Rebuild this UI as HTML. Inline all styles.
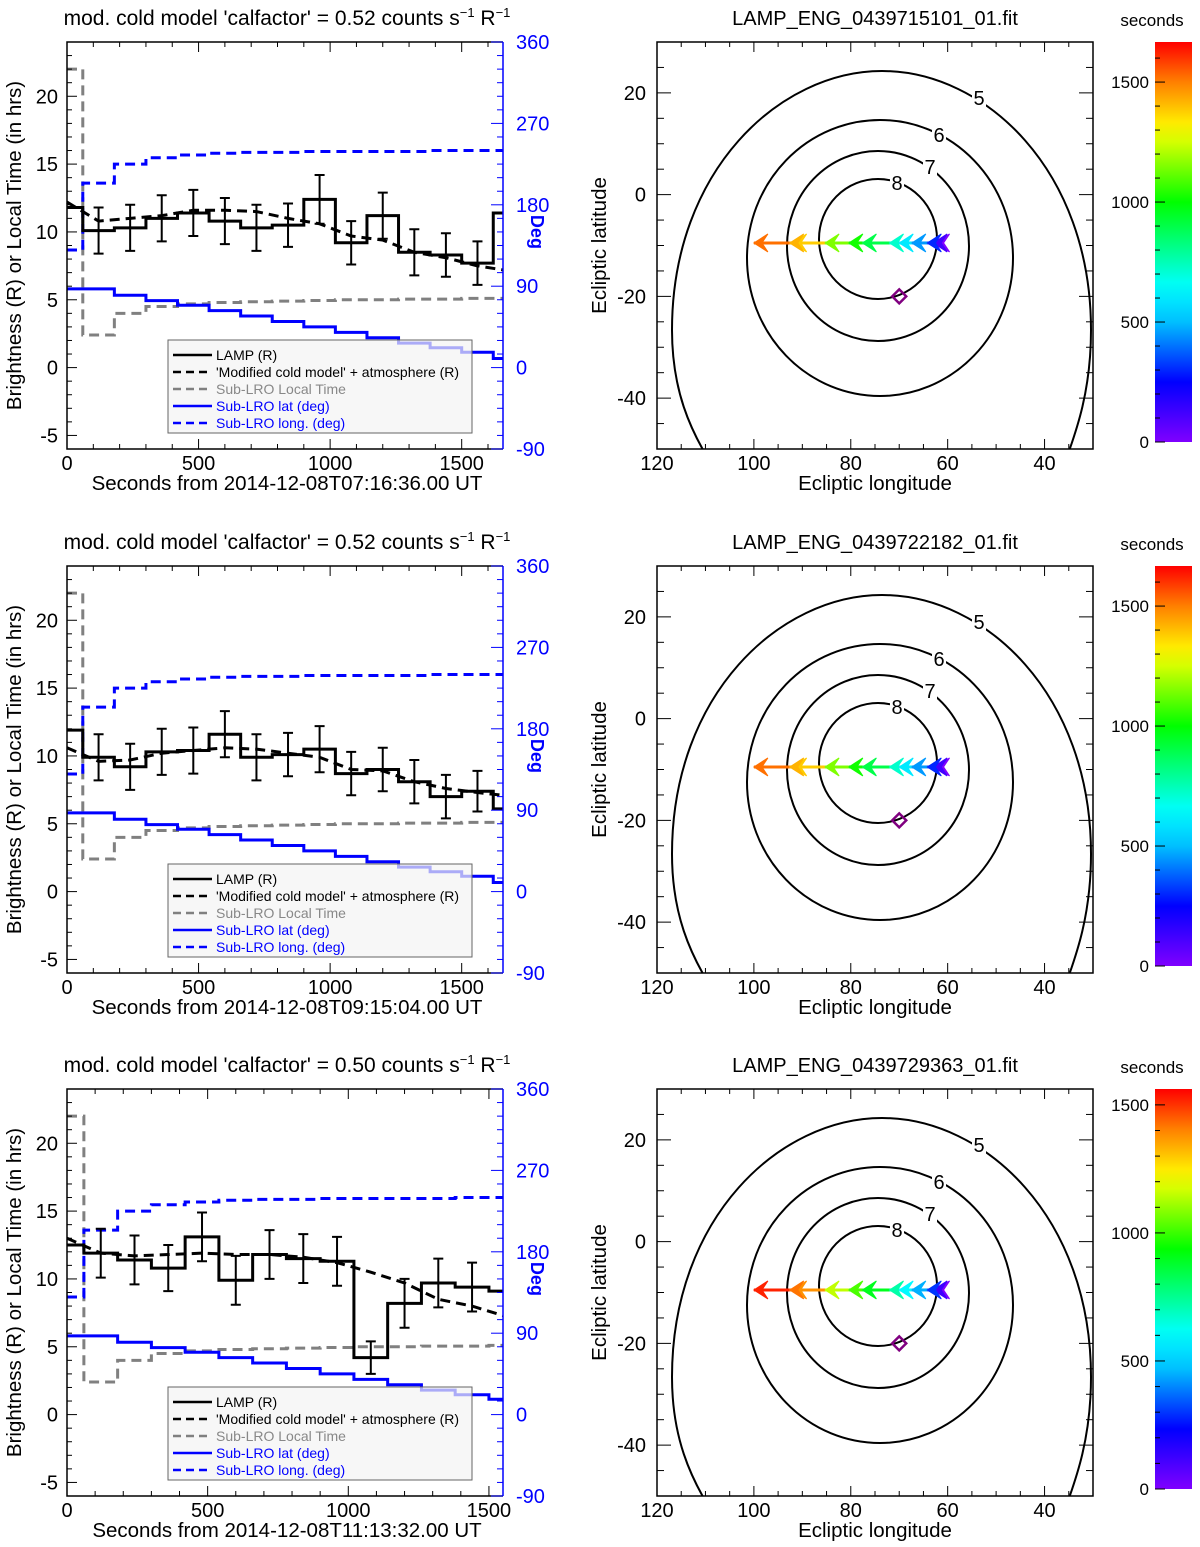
<!DOCTYPE html>
<html><head><meta charset="utf-8"><style>
body{margin:0;background:#fff;overflow:hidden}
svg{display:block;font-family:"Liberation Sans",sans-serif}
</style></head><body>
<svg id="fig" width="1200" height="1547" viewBox="0 0 1200 1547" xmlns="http://www.w3.org/2000/svg"></svg>
<script>
// ---- data: time-series panels (bins every 120 s starting at 60 s) ----
const lamp1=[11.8,10.1,10.3,11.0,11.4,10.8,10.3,10.5,12.4,9.2,11.2,8.5,8.3,7.7,11.4];
const lampErr1=[1.7,1.7,1.7,1.7,1.7,1.7,1.7,1.6,1.8,1.6,1.7,1.7,1.6,1.6,1.6];
const model1=[12.2,10.8,11.0,11.2,11.6,11.6,11.5,11.0,10.6,9.7,9.4,8.5,8.1,7.5,7.2];
const lamp2=[11.9,9.9,9.2,10.3,10.4,11.6,9.9,10.1,10.5,8.7,9.0,8.1,7.0,7.4,6.1];
const lampErr2=[1.7,1.7,1.7,1.7,1.7,1.7,1.7,1.6,1.7,1.6,1.6,1.6,1.6,1.5,1.5];
const model2=[10.6,9.6,9.7,10.2,10.4,10.6,10.5,10.2,9.9,9.0,8.9,8.1,7.6,7.3,7.1];
const lamp3=[12.5,11.9,11.4,10.8,13.1,9.9,11.8,11.5,11.3,4.2,8.2,9.7,9.4,9.1];
const lampErr3=[1.8,1.8,1.8,1.7,1.8,1.8,1.8,1.8,1.8,1.2,1.8,1.8,1.8,1.8];
const model3=[13.0,11.9,11.7,11.8,11.9,11.8,11.8,11.6,11.2,10.5,9.7,8.5,8.0,7.3];
const localTime=[22.0,2.4,4.0,4.5,4.7,4.8,4.85,4.9,4.95,5.0,5.0,5.05,5.05,5.1,5.1];
const latDeg=[87,87,80,74,69,63,57,51,45,39,33,27,22,17,10];
const lonDeg=[130,204,225,232,235,237,238,238,239,239,239,239,240,240,240];
const xTicks=[0,500,1000,1500];
const yTicks=[-5,0,5,10,15,20];
const degTicks=[-90,0,90,180,270,360];
// ---- data: sky maps ----
const arrowLon=[62.5,63,64.2,67.4,70,72,77.6,80.4,85.3,92,92.6,100];
const arrowT=[0,120,300,450,600,720,900,1020,1150,1380,1420,1520];
const lonTicks=[120,100,80,60,40];
const latTicks=[-40,-20,0,20];
const cbTicks=[0,500,1000,1500];
const contourLevels=[5,6,7,8];

const S=document.getElementById('fig');
const NS='http://www.w3.org/2000/svg';
function el(tag,attrs,parent,text){const e=document.createElementNS(NS,tag);for(const k in attrs)e.setAttribute(k,attrs[k]);if(text!==undefined)e.textContent=text;(parent||S).appendChild(e);return e;}

function leftPanel(oy,xmax,lamp,err,model,title,sub,tag){
  const g=el('g',{},S);
  
  
  const L=67,R=503,T=42+oy,B=449+oy;
  const X=t=>L+(R-L)*t/xmax;
  const Y=v=>B-(B-T)*(v+6)/30;
  const D=d=>Y((d+90)/15-6);
  const t1=el('text',{x:287,y:25+oy,'font-size':21,'text-anchor':'middle'},g);
  
  t1.innerHTML="mod. cold model 'calfactor' = "+sub+" counts s<tspan dy='-8' font-size='13'>−1</tspan><tspan dy='8'> R</tspan><tspan dy='-8' font-size='13'>−1</tspan>";
  const edges=i=>[i==0?0:60+(i-1)*120, Math.min(xmax,60+i*120)];
  const n=lamp.length;
  let p='';localTime.forEach((v,i)=>{const[a,b]=edges(i);if(a>=xmax)return;p+=(p?'L':'M')+X(a)+','+Y(v)+'L'+X(b)+','+Y(v);});
  const lt=el('path',{d:p,fill:'none',stroke:'#808080','stroke-width':3,'stroke-dasharray':'10,6'},g);
  
  p='';lonDeg.forEach((v,i)=>{const[a,b]=edges(i);if(a>=xmax)return;p+=(p?'L':'M')+X(a)+','+D(v)+'L'+X(b)+','+D(v);});
  const lo=el('path',{d:p,fill:'none',stroke:'#0000ff','stroke-width':3,'stroke-dasharray':'10,6'},g);
  
  p='';latDeg.forEach((v,i)=>{const[a,b]=edges(i);if(a>=xmax)return;p+=(p?'L':'M')+X(a)+','+D(v)+'L'+X(b)+','+D(v);});
  const la=el('path',{d:p,fill:'none',stroke:'#0000ff','stroke-width':3},g);
  
  p='';lamp.forEach((v,i)=>{const[a,b]=edges(i);p+=(p?'L':'M')+X(a)+','+Y(v)+'L'+X(b)+','+Y(v);});
  const lp=el('path',{d:p,fill:'none',stroke:'#000','stroke-width':3},g);
  
  lamp.forEach((v,i)=>{if(i==0||i==n-1)return;const c=X(i*120);
    const e=el('path',{d:`M${c},${Y(v-err[i])}V${Y(v+err[i])}M${c-5},${Y(v-err[i])}h10M${c-5},${Y(v+err[i])}h10`,stroke:'#000','stroke-width':2,fill:'none'},g);
    });
  p='';model.forEach((v,i)=>{const t=Math.min(xmax,i*120);p+=(p?'L':'M')+X(t)+','+Y(v);});
  const md=el('path',{d:p,fill:'none',stroke:'#000','stroke-width':3,'stroke-dasharray':'10,6'},g);
  
  el('path',{d:`M${R},${T}H${L}V${B}H${R}`,fill:'none',stroke:'#000','stroke-width':1.5},g);
  el('line',{x1:R,y1:T,x2:R,y2:B,stroke:'#0000ff','stroke-width':1.5},g);
  for(let t=0;t<=xmax;t+=100){const big=t%500==0;const x=X(t);
    el('line',{x1:x,y1:B,x2:x,y2:B-(big?10:5),stroke:'#000'},g);el('line',{x1:x,y1:T,x2:x,y2:T+(big?10:5),stroke:'#000'},g);}
  xTicks.forEach(t=>{if(t>xmax)return;const tx=el('text',{x:X(t),y:B+21,'font-size':20,'text-anchor':'middle'},g,t);
    });
  for(let v=-5;v<=23;v++){const big=v%5==0;el('line',{x1:L,y1:Y(v),x2:L+(big?10:5),y2:Y(v),stroke:'#000'},g);}
  yTicks.forEach(v=>{const tx=el('text',{x:L-9,y:Y(v)+7,'font-size':20,'text-anchor':'end'},g,v);
    });
  for(let d=-90;d<=360;d+=15){const big=d%90==0;el('line',{x1:R,y1:D(d),x2:R-(big?12:6),y2:D(d),stroke:'#0000ff'},g);}
  degTicks.forEach(d=>{const tx=el('text',{x:R+13,y:D(d)+7,'font-size':20,fill:'#0000ff'},g,d);
    });
  const dl=el('text',{x:0,y:0,'font-size':18,fill:'#0000ff','font-weight':'bold',transform:`translate(531,${Y(10)}) rotate(90)`,'text-anchor':'middle'},g,'Deg');
  
  const yl=el('text',{x:0,y:0,'font-size':20.5,transform:`translate(21,${(T+B)/2}) rotate(-90)`,'text-anchor':'middle'},g,'Brightness (R) or Local Time (in hrs)');
  
  const xl=el('text',{x:287,y:B+41,'font-size':20.5,'text-anchor':'middle'},g,'Seconds from '+title+' UT');
  
  const lg=el('g',{},g);
  el('rect',{x:168,y:340+oy,width:304,height:93,fill:'#f4f4f4','fill-opacity':0.7,stroke:'#666'},lg);
  const items=[['LAMP (R)','#000','#000',''],["'Modified cold model' + atmosphere (R)",'#000','#000','8,5'],['Sub-LRO Local Time','#808080','#888','8,5'],['Sub-LRO lat (deg)','#0000ff','#0000ff',''],['Sub-LRO long. (deg)','#0000ff','#0000ff','8,5']];
  items.forEach((it,i)=>{const y=355+oy+i*17;
    el('line',{x1:173,y1:y,x2:212,y2:y,stroke:it[1],'stroke-width':2.5,'stroke-dasharray':it[3]},lg);
    const tx=el('text',{x:216,y:y+5,'font-size':14,fill:it[2]},lg,it[0]);
    });
}

const hueStops=[[0,270],[0.15,240],[0.3,195],[0.39,180],[0.6,120],[0.78,60],[0.9,30],[1,0]];
function hueColor(f){f=Math.max(0,Math.min(1,f));for(let k=1;k<hueStops.length;k++){if(f<=hueStops[k][0]){const a=hueStops[k-1],b=hueStops[k];const h=a[1]+(b[1]-a[1])*(f-a[0])/(b[0]-a[0]);return `hsl(${h},100%,50%)`;}}return 'hsl(0,100%,50%)';}

function rightPanel(oy,tmax,title,tag){
  const g=el('g',{},S);
  
  
  const L=657,R=1093,T=42+oy,B=449+oy;
  const X=lo=>L+(R-L)*(120-lo)/90;
  const Y=la=>B-(B-T)*(la+50)/80;
  const cp=el('clipPath',{id:'c'+tag},g);el('rect',{x:L,y:T,width:R-L,height:B-T},cp);
  const cg=el('g',{'clip-path':`url(#c${tag})`},g);
  const c5=el('path',{d:`M712,${465+oy} C690,${430+oy} 672,${390+oy} 672,${330+oy} C672,${170+oy} 780,${71+oy} 882,${71+oy} C985,${71+oy} 1091,${170+oy} 1091,${330+oy} C1091,${390+oy} 1077,${430+oy} 1064,${465+oy}`,fill:'none',stroke:'#000','stroke-width':2},cg);
  
  const ell=[[880,258+oy,133,138],[878,246+oy,91,95],[878,239+oy,59,60]];
  ell.forEach((e,i)=>{const c=el('ellipse',{cx:e[0],cy:e[1],rx:e[2],ry:e[3],fill:'none',stroke:'#000','stroke-width':2},cg);
    });
  const lp=[[979,98],[939,135],[930,167],[897,183]];
  lp.forEach((p,i)=>{el('rect',{x:p[0]-7,y:p[1]-10+oy,width:14,height:20,fill:'#fff'},g);
    const t=el('text',{x:p[0],y:p[1]+7+oy,'font-size':20,'text-anchor':'middle'},g,contourLevels[i]);
    });
  const ya=Y(-9.5);
  for(let i=arrowLon.length-1;i>0;i--){el('line',{x1:X(arrowLon[i-1]),y1:ya,x2:X(arrowLon[i]),y2:ya,stroke:hueColor(arrowT[i]/tmax),'stroke-width':3},g);}
  arrowLon.forEach((lo,i)=>{const x=X(lo),c=hueColor(arrowT[i]/tmax);
    const a=el('path',{d:`M${x+14},${ya-9}L${x},${ya}L${x+14},${ya+9}L${x+8},${ya}Z`,fill:c,stroke:c,'stroke-width':1},g);
    });
  const dm=el('path',{d:`M${X(70)},${Y(-20)-7}l7,7l-7,7l-7,-7Z`,fill:'none',stroke:'#800080','stroke-width':2.5},g);
  
  el('rect',{x:L,y:T,width:R-L,height:B-T,fill:'none',stroke:'#000','stroke-width':1.5},g);
  for(let lo=35;lo<=120;lo+=5){const big=lo%20==0;const x=X(lo);el('line',{x1:x,y1:B,x2:x,y2:B-(big?10:5),stroke:'#000'},g);el('line',{x1:x,y1:T,x2:x,y2:T+(big?10:5),stroke:'#000'},g);}
  lonTicks.forEach(lo=>{const t=el('text',{x:X(lo),y:B+21,'font-size':20,'text-anchor':'middle'},g,lo);});
  for(let la=-50;la<=30;la+=5){const big=la%20==0;el('line',{x1:L,y1:Y(la),x2:L+(big?14:7),y2:Y(la),stroke:'#000'},g);el('line',{x1:R,y1:Y(la),x2:R-(big?14:7),y2:Y(la),stroke:'#000'},g);}
  latTicks.forEach(la=>{const t=el('text',{x:L-11,y:Y(la)+7,'font-size':20,'text-anchor':'end'},g,la);});
  const tt=el('text',{x:875,y:25+oy,'font-size':20,'text-anchor':'middle'},g,title);
  const xl=el('text',{x:875,y:B+41,'font-size':20.5,'text-anchor':'middle'},g,'Ecliptic longitude');
  const yl=el('text',{x:0,y:0,'font-size':20.5,transform:`translate(606,${(T+B)/2}) rotate(-90)`,'text-anchor':'middle'},g,'Ecliptic latitude');
  const cb=el('g',{},g);
  const gr=el('linearGradient',{id:'g'+tag,x1:0,y1:1,x2:0,y2:0},cb);
  for(let k=0;k<=20;k++)el('stop',{offset:k/20,'stop-color':hueColor(k/20)},gr);
  const cT=42+oy,cB=442+oy;
  el('rect',{x:1155,y:cT,width:37,height:cB-cT,fill:`url(#g${tag})`},cb);
  const CY=s=>cB-(cB-cT)*s/tmax;
  for(let s=0;s<=tmax;s+=100){const big=s%500==0;el('line',{x1:1155,y1:CY(s),x2:1155+(big?10:5),y2:CY(s),stroke:'#000'},cb);}
  cbTicks.forEach(s=>{const t=el('text',{x:1149,y:CY(s)+6,'font-size':17,'text-anchor':'end'},cb,s);});
  const st=el('text',{x:1152,y:26+oy,'font-size':17,'text-anchor':'middle'},cb,'seconds');
}

leftPanel(0,1657,lamp1,lampErr1,model1,'2014-12-08T07:16:36.00','0.52','1');
leftPanel(524,1657,lamp2,lampErr2,model2,'2014-12-08T09:15:04.00','0.52','2');
leftPanel(1047,1550,lamp3,lampErr3,model3,'2014-12-08T11:13:32.00','0.50','3');
rightPanel(0,1667,'LAMP_ENG_0439715101_01.fit','1');
rightPanel(524,1667,'LAMP_ENG_0439722182_01.fit','2');
rightPanel(1047,1562,'LAMP_ENG_0439729363_01.fit','3');
</script>
</body></html>
